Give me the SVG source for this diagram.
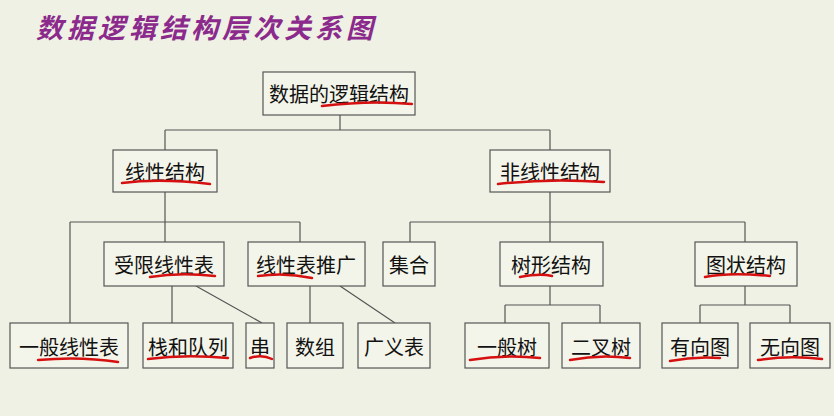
<svg xmlns="http://www.w3.org/2000/svg" width="834" height="416" viewBox="0 0 834 416">
<style>
.b{fill:#f4f5ea;stroke:#555;stroke-width:1.2}
.t{font-family:"Noto Sans CJK SC","Noto Sans",sans-serif;font-size:20px;fill:#111;text-anchor:middle;dominant-baseline:central}
.c{stroke:#555;stroke-width:1.2;fill:none}
.u{stroke:#d61010;stroke-width:2.5;fill:none;stroke-linecap:round}
</style>
<rect width="834" height="416" fill="#eef1e3"/>
<text x="36" y="38" font-family="'Noto Sans CJK SC',sans-serif" font-size="27" font-weight="bold" font-style="italic" fill="#8b2a8c" letter-spacing="4">数据逻辑结构层次关系图</text>
<g id="connectors" class="c">
<path d="M340 115V130M165 130H550M165 130V150M550 130V150"/>
<path d="M165 192V222M70 222H300M70 222V323M165 222V242M300 222V242"/>
<path d="M550 192V222M410 222H745M410 222V242M550 222V242M745 222V242"/>
<path d="M172 286V323M196 286L262 323M310 286V323M340 286L395 323"/>
<path d="M550 286V305M505 305H600M505 305V323M600 305V323"/>
<path d="M745 286V305M700 305H790M700 305V323M790 305V323"/>
</g>
<g id="n1"><rect class="b" x="263" y="72" width="152" height="43"/><text class="t" x="339" y="93">数据的逻辑结构</text></g>
<g id="n2"><rect class="b" x="113" y="150" width="104" height="42"/><text class="t" x="165" y="171">线性结构</text></g>
<g id="n3"><rect class="b" x="490" y="150" width="120" height="42"/><text class="t" x="550" y="171">非线性结构</text></g>
<g id="n4"><rect class="b" x="104" y="242" width="120" height="44"/><text class="t" x="164" y="264">受限线性表</text></g>
<g id="n5"><rect class="b" x="248" y="242" width="117" height="44"/><text class="t" x="306" y="264">线性表推广</text></g>
<g id="n6"><rect class="b" x="383" y="242" width="52" height="44"/><text class="t" x="409" y="264">集合</text></g>
<g id="n7"><rect class="b" x="500" y="242" width="103" height="44"/><text class="t" x="551" y="264">树形结构</text></g>
<g id="n8"><rect class="b" x="695" y="242" width="102" height="44"/><text class="t" x="746" y="264">图状结构</text></g>
<g id="n9"><rect class="b" x="10" y="323" width="118" height="45"/><text class="t" x="69" y="346">一般线性表</text></g>
<g id="n10"><rect class="b" x="143" y="323" width="90" height="45"/><text class="t" x="188" y="346">栈和队列</text></g>
<g id="n11"><rect class="b" x="246" y="323" width="28" height="45"/><text class="t" x="260" y="346">串</text></g>
<g id="n12"><rect class="b" x="287" y="323" width="56" height="45"/><text class="t" x="315" y="346">数组</text></g>
<g id="n13"><rect class="b" x="358" y="323" width="72" height="45"/><text class="t" x="394" y="346">广义表</text></g>
<g id="n14"><rect class="b" x="465" y="323" width="84" height="45"/><text class="t" x="507" y="346">一般树</text></g>
<g id="n15"><rect class="b" x="562" y="323" width="78" height="45"/><text class="t" x="601" y="346">二叉树</text></g>
<g id="n16"><rect class="b" x="662" y="323" width="76" height="45"/><text class="t" x="700" y="346">有向图</text></g>
<g id="n17"><rect class="b" x="750" y="323" width="80" height="45"/><text class="t" x="790" y="346">无向图</text></g>
<g id="marks" class="u">
<path d="M322 106Q370 100 412 104"/>
<path d="M122 183Q160 178 210 184"/>
<path d="M498 184Q550 178 604 182"/>
<path d="M150 277Q180 272 215 276"/>
<path d="M258 276Q285 272 312 278"/>
<path d="M520 277Q540 273 552 276"/>
<path d="M705 277Q730 272 770 276"/>
<path d="M38 360Q80 356 118 362"/>
<path d="M148 359Q185 354 228 358"/>
<path d="M250 358Q262 354 272 359"/>
<path d="M470 360Q505 354 540 358"/>
<path d="M570 360Q600 354 630 358"/>
<path d="M670 361Q695 356 720 358"/>
<path d="M758 360Q790 355 822 359"/>
</g>
</svg>
